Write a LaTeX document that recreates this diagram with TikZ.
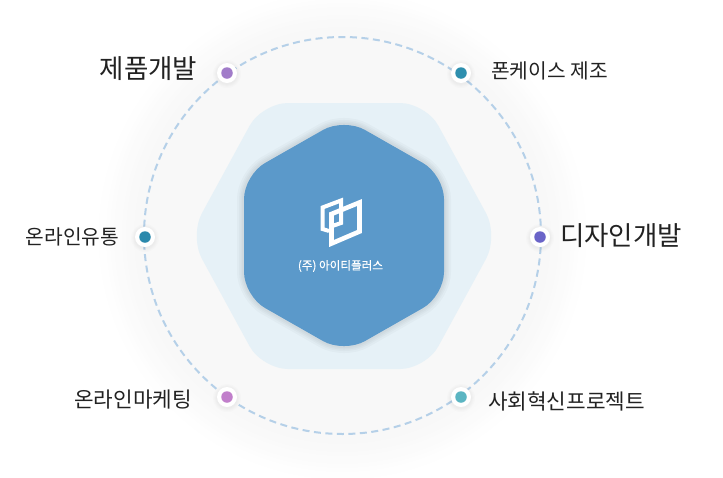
\documentclass[tikz,border=0pt]{standalone}
\usepackage{fontspec}
\setmainfont{Noto Sans CJK KR}
\newfontfamily\companyfont[FakeBold=0.5]{Noto Sans CJK KR}
\usetikzlibrary{positioning}
\definecolor{hexblue}{RGB}{91,153,202}
\definecolor{hexpale}{RGB}{230,241,247}
\definecolor{ringblue}{RGB}{181,208,232}
\definecolor{discgray}{RGB}{248,248,248}
\definecolor{dotpurple}{RGB}{161,124,201}
\definecolor{dotteal}{RGB}{46,143,174}
\definecolor{dotviolet}{RGB}{106,100,200}
\definecolor{dotblue}{RGB}{43,137,172}
\definecolor{dotpink}{RGB}{193,127,203}
\definecolor{dotaqua}{RGB}{91,181,194}
\definecolor{labelink}{RGB}{34,34,34}
\tikzset{
    bigdot/.style={circle, inner sep=0pt, minimum size=11.5pt},
    bigtext/.style={font=\fontsize{26.5}{26.5}\selectfont, text=labelink, inner sep=0pt},
    smalltext/.style={font=\fontsize{20.3}{20.3}\selectfont, text=labelink, inner sep=0pt},
    widetext/.style={font=\fontsize{21.3}{21.3}\selectfont, text=labelink, inner sep=0pt}
}
\begin{document}
\begin{tikzpicture}[x=1pt, y=-1pt]
    \useasboundingbox (0,0) rectangle (723,477);

    % Soft glow and disc
    \foreach \r/\c in {244/10,240/20,236/30,232/40,228/50,224/60,220/70,216/80,212/90,208/100} {
        \fill[discgray!\c!white] (342.5,235.5) circle (\r);
    }
    \draw[ringblue, line width=2pt, dash pattern=on 7pt off 4.5pt] (342.5,235.5) circle (198.5);

    % Pale hexagon
    \fill[hexpale, rounded corners=26pt]
        (189.5,236) -- (262,103) -- (426,103) -- (498.5,236) -- (426,369) -- (262,369) -- cycle;

    % Shadow of the blue hexagon
    \foreach \w in {14,10,7,4} {
        \draw[black, opacity=0.022, line width=\w pt, line join=round, rounded corners=24pt]
            (344,118) -- (444,175) -- (444,296) -- (344,353) -- (244,296) -- (244,175) -- cycle;
    }
    \fill[hexblue, rounded corners=24pt]
        (344,118) -- (444,175) -- (444,296) -- (344,353) -- (244,296) -- (244,175) -- cycle;

    % Logo
    \draw[white, line width=4pt, miter limit=10]
        (329,231) -- (322.5,229) -- (322.5,207.5) -- (341,200.5) -- (341,223) -- (331,226.5);
    \draw[white, line width=4.6pt, line join=miter]
        (331.5,214) -- (359.5,202.5) -- (359.5,231.5) -- (331.5,243.5) -- cycle;
    \node[white, inner sep=0pt, font=\companyfont\fontsize{11.6}{11.6}\selectfont] (company) at (340.5,266) {(주) 아이티플러스};

    % Dots on the ring
    \foreach \name/\x/\y/\c in {dev/227/73/dotpurple, case/461/73/dotteal, design/540/237/dotviolet,
        dist/145/237/dotblue, market/227/397/dotpink, social/461/397/dotaqua} {
        \foreach \w in {14,13,12,11} {
            \fill[black, opacity=0.012] (\x,\y+1) circle (\w);
        }
        \fill[white] (\x,\y) circle (10);
        \node[bigdot, fill=\c] (\name) at (\x,\y) {};
    }

    % Labels
    \node[bigtext, anchor=east] (devlabel) at (197.5,68.5) {제품개발};
    \node[smalltext, anchor=west] (caselabel) at (491,71) {폰케이스 제조};
    \node[bigtext, anchor=west] (designlabel) at (560,235.5) {디자인개발};
    \node[smalltext, anchor=east] (distlabel) at (119.5,237) {온라인유통};
    \node[widetext, anchor=east] (marketlabel) at (192,400) {온라인마케팅};
    \node[widetext, anchor=west] (sociallabel) at (488,401) {사회혁신프로젝트};
\end{tikzpicture}
\end{document}
